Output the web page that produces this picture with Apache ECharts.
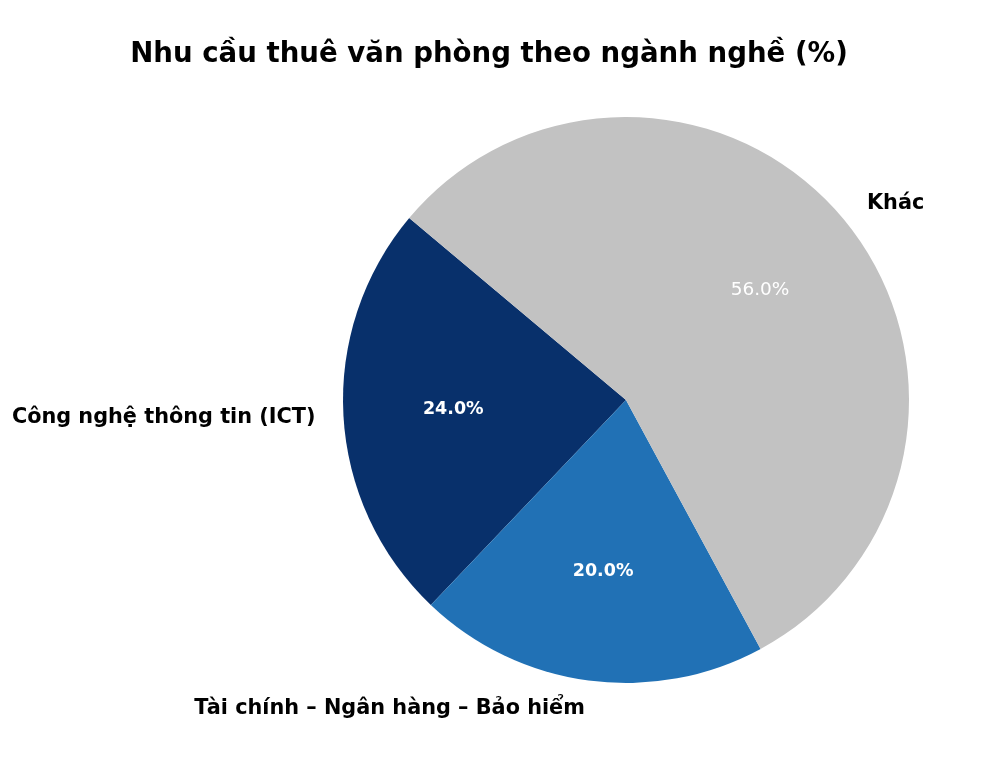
<!DOCTYPE html>
<html>
<head>
<meta charset="utf-8">
<script src="https://cdn.jsdelivr.net/npm/echarts@6/dist/echarts.min.js"></script>
<style>
html,body{margin:0;padding:0;background:#fff;}
#chart{width:1000px;height:765px;}
</style>
</head>
<body>
<div id="chart"></div>
<script>
const titleText = 'Nhu cầu thuê văn phòng theo ngành nghề (%)';
const categories = ['Công nghệ thông tin (ICT)', 'Tài chính – Ngân hàng – Bảo hiểm', 'Khác'];
const values = [24, 20, 56];
const colors = ['#08306b', '#2171b5', '#c2c2c2'];
const pctWeights = ['bold', 'bold', 'normal'];
const pctSizes = [17.5, 17.5, 18.5];

const FONT = '"DejaVu Sans", sans-serif';
const center = [626, 400];
const R = 283;

const chart = echarts.init(document.getElementById('chart'), null, {renderer: 'canvas'});

const mainData = categories.map((c, i) => ({
  name: c, value: values[i],
  itemStyle: {color: colors[i]}
}));
const pctData = categories.map((c, i) => ({
  name: c, value: values[i],
  itemStyle: {color: 'rgba(0,0,0,0)'},
  label: {fontWeight: pctWeights[i], fontSize: pctSizes[i]}
}));

chart.setOption({
  animation: false,
  backgroundColor: '#ffffff',
  title: {
    text: titleText,
    left: 484, top: 36, textAlign: 'center',
    textStyle: {fontFamily: FONT, fontSize: 27.6, fontWeight: 'bold', color: '#000'}
  },
  series: [
    {
      type: 'pie',
      center: center,
      radius: R,
      startAngle: 140,
      clockwise: false,
      avoidLabelOverlap: false,
      silent: true,
      data: mainData,
      itemStyle: {borderWidth: 0},
      label: {
        show: true, position: 'outside',
        distanceToLabelLine: 0,
        width: 400, overflow: 'none',
        fontFamily: FONT, fontSize: 20.8, fontWeight: 'bold', color: '#000',
        formatter: p => p.name
      },
      labelLine: {show: false, length: 28, length2: 0},
      emphasis: {disabled: true}
    },
    {
      type: 'pie',
      center: center,
      radius: [150, 190],
      startAngle: 140,
      clockwise: false,
      avoidLabelOverlap: false,
      silent: true,
      data: pctData,
      label: {
        show: true, position: 'inside',
        fontFamily: FONT, color: '#fff',
        formatter: p => p.value.toFixed(1) + '%'
      },
      labelLine: {show: false},
      emphasis: {disabled: true}
    }
  ]
});
</script>
</body>
</html>
